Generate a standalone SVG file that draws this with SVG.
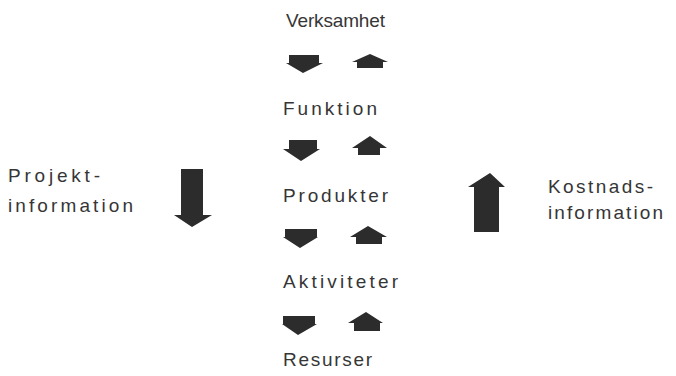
<svg xmlns="http://www.w3.org/2000/svg" width="676" height="376" viewBox="0 0 676 376">
<style>
.t{font-family:"Liberation Sans",Arial,sans-serif;font-size:19px;fill:#363636;}
.a{fill:#2c2c2c;}
</style>
<rect width="676" height="376" fill="#ffffff"/>
<g id="verksamhet"><text class="t" x="286" y="27" textLength="99" lengthAdjust="spacing">Verksamhet</text></g>
<g id="funktion"><text class="t" x="283" y="115" textLength="94" lengthAdjust="spacing">Funktion</text></g>
<g id="produkter"><text class="t" x="283" y="202" textLength="105" lengthAdjust="spacing">Produkter</text></g>
<g id="aktiviteter"><text class="t" x="283" y="288" textLength="115" lengthAdjust="spacing">Aktiviteter</text></g>
<g id="resurser"><text class="t" x="283" y="366" textLength="89" lengthAdjust="spacing">Resurser</text></g>
<g id="projektinformation">
<text class="t" x="8" y="182" textLength="92" lengthAdjust="spacing">Projekt-</text>
<text class="t" x="8" y="212" textLength="125" lengthAdjust="spacing">information</text>
</g>
<g id="kostnadsinformation">
<text class="t" x="548" y="193" textLength="105" lengthAdjust="spacing">Kostnads-</text>
<text class="t" x="548" y="219" textLength="115" lengthAdjust="spacing">information</text>
</g>
<g id="connectors">
<polygon class="a" points="289,55 319,55 319,63 323,63 303,73 286,63 289,63"/>
<polygon class="a" points="370,54 388,62 383,62 383,68 357,68 357,62 352,62"/>
<polygon class="a" points="289,140 317,140 317,149 320,149 301,161 283,149 289,149"/>
<polygon class="a" points="370,136 387,148 380,148 380,155 358,155 358,148 352,148"/>
<polygon class="a" points="285,229 317,229 317,237 318,237 300,248 283,237 285,237"/>
<polygon class="a" points="368,226 387,237 382,237 382,244 356,244 356,237 350,237"/>
<polygon class="a" points="283,316 315,316 315,324 317,324 298,335 282,324 283,324"/>
<polygon class="a" points="366,312 383,323 380,323 380,331 354,331 354,323 348,323"/>
<polygon class="a" points="181,169 203,169 203,215 212,215 192,227 174,215 181,215"/>
<polygon class="a" points="490,173 505,187 499,187 499,232 474,232 474,187 468,187"/>
</g>
</svg>
